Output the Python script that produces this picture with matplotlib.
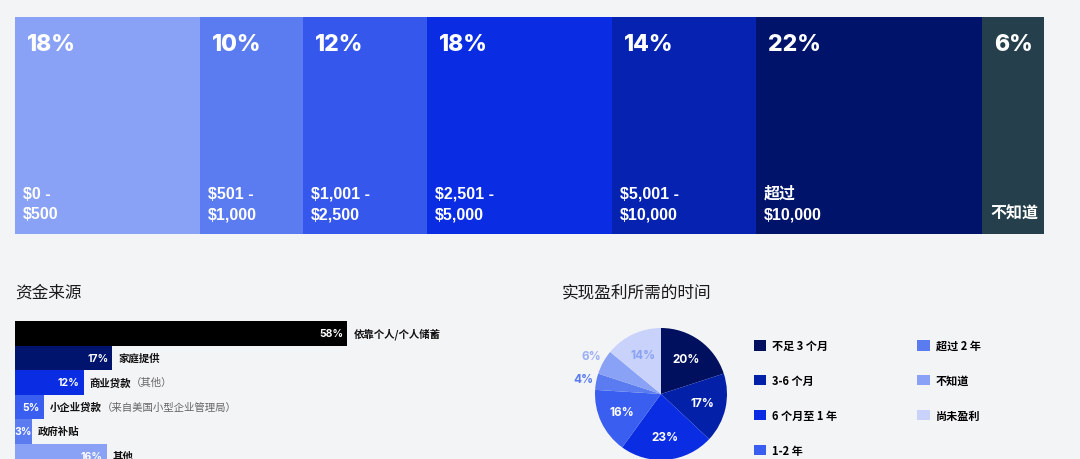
import numpy as np
import matplotlib.pyplot as plt
from matplotlib.patches import Patch

plt.rcParams['font.family'] = ['Noto Sans CJK SC', 'DejaVu Sans']

BG = "#f3f4f6"
W, H = 1080, 460

# startup budget split (top strip)
budget_labels = ["$0 -\n$500", "$501 -\n$1,000", "$1,001 -\n$2,500", "$2,501 -\n$5,000",
                 "$5,001 -\n$10,000", "超过\n$10,000", "不知道"]
budget_pct = [18, 10, 12, 18, 14, 22, 6]
budget_colors = ["#8aa2f6", "#5b7bf0", "#3657ec", "#0a2de3", "#0523b0", "#00136a", "#263f4c"]

# funding sources (bottom left)
funding_labels = ["依靠个人/个人储蓄", "家庭提供", "商业贷款", "小企业贷款", "政府补贴", "其他"]
funding_notes = ["", "", "（其他）", "（来自美国小型企业管理局）", "", ""]
funding_pct = [58, 17, 12, 5, 3, 16]
funding_colors = ["#000000", "#00146e", "#0a2de3", "#3a5ef0", "#5a7cf0", "#8aa2f6"]

# time to profitability (pie)
profit_labels = ["不足 3 个月", "3-6 个月", "6 个月至 1 年", "1-2 年", "超过 2 年", "不知道", "尚未盈利"]
profit_pct = [20, 17, 23, 16, 4, 6, 14]
profit_colors = ["#000f5e", "#0321a8", "#0a2de3", "#3a5ef0", "#5a7cf0", "#8aa2f6", "#c8d2fa"]
profit_text_colors = ["white", "white", "white", "white", "#5a7cf0", "#9db0f5", "#8aa2f6"]

LATIN = ['Liberation Sans', 'Noto Sans CJK SC']
NUM = ['Inter', 'DejaVu Sans']


def px_axes(x0, y0, w, h):
    return fig.add_axes([x0 / W, 1 - (y0 + h) / H, w / W, h / H])


fig = plt.figure(figsize=(W / 100, H / 100), dpi=100)
fig.patch.set_facecolor(BG)

# ---- top strip ----
ax = px_axes(15, 18, 1029, 217)
lefts = np.cumsum([0] + budget_pct[:-1])
ax.barh(0, budget_pct, left=lefts, height=1, align='edge', color=budget_colors)
ax.set_xlim(0, 100)
ax.set_ylim(0, 1)
ax.axis('off')
for lab, p, l in zip(budget_labels, budget_pct, lefts):
    ax.annotate(f"{p}%", (l, 1), xytext=(12, -27), textcoords='offset pixels',
                ha='left', va='center', color='white', fontsize=16.5,
                fontweight='heavy', family=NUM)
    ax.annotate(lab, (l, 0), xytext=(8, 13), textcoords='offset pixels',
                ha='left', va='bottom', color='white', fontsize=11.5,
                fontweight='bold', family=LATIN, linespacing=1.45,
                parse_math=False)

# ---- funding sources ----
fig.text(15 / W, 1 - 293 / H, "资金来源", fontsize=12, va='center', color='#1a1a1a')
ax = px_axes(15, 322, 573, 6 * 24.5)
ys = np.arange(len(funding_pct))
ax.barh(ys, funding_pct, height=1, align='edge', color=funding_colors)
ax.set_xlim(0, 100)
ax.set_ylim(len(funding_pct), 0)
ax.axis('off')
for y, p, lab, note in zip(ys, funding_pct, funding_labels, funding_notes):
    pad = -4 if p > 4 else 0
    ax.annotate(f"{p}%", (p, y + 0.5), xytext=(pad, 0), textcoords='offset pixels',
                ha='right', va='center', color='white', fontsize=7.5,
                fontweight='bold', family=NUM)
    t = ax.annotate(lab, (p, y + 0.5), xytext=(6, 0), textcoords='offset pixels',
                    ha='left', va='center', color='#111111', fontsize=7.5,
                    fontweight='bold')
    if note:
        ax.annotate(note, xy=(1, 0.5), xycoords=t, xytext=(0, 0),
                    textcoords='offset pixels', ha='left', va='center',
                    color='#666666', fontsize=7.5)

# ---- time to profit pie ----
fig.text(562 / W, 1 - 293 / H, "实现盈利所需的时间", fontsize=12, va='center', color='#1a1a1a')
ax = px_axes(595, 329, 132, 132)
wedges, _ = ax.pie(profit_pct, colors=profit_colors, startangle=90, counterclock=False,
                   radius=1)
ax.set_xlim(-1, 1)
ax.set_ylim(-1, 1)
ax.set_aspect('equal')
for w, p, tc in zip(wedges, profit_pct, profit_text_colors):
    mid = np.deg2rad((w.theta1 + w.theta2) / 2)
    r = 1.2 if p < 10 else 0.65
    ax.text(r * np.cos(mid), r * np.sin(mid), f"{p}%", ha='center', va='center',
            color=tc, fontsize=8.5, fontweight='bold', family=NUM)

handles = [Patch(facecolor=c, label=l) for c, l in zip(profit_colors, profit_labels)]
fig.legend(handles=handles, loc='upper left', bbox_to_anchor=(754 / W, 1 - 340 / H),
           ncol=2, frameon=False, borderpad=0, borderaxespad=0,
           handlelength=1.1, handleheight=1.1, handletextpad=0.55,
           labelspacing=1.97, columnspacing=7.2,
           prop={'size': 8, 'weight': 'bold', 'family': ['Noto Sans CJK SC', 'DejaVu Sans']})

fig.savefig("out.png", dpi=100, facecolor=BG)
